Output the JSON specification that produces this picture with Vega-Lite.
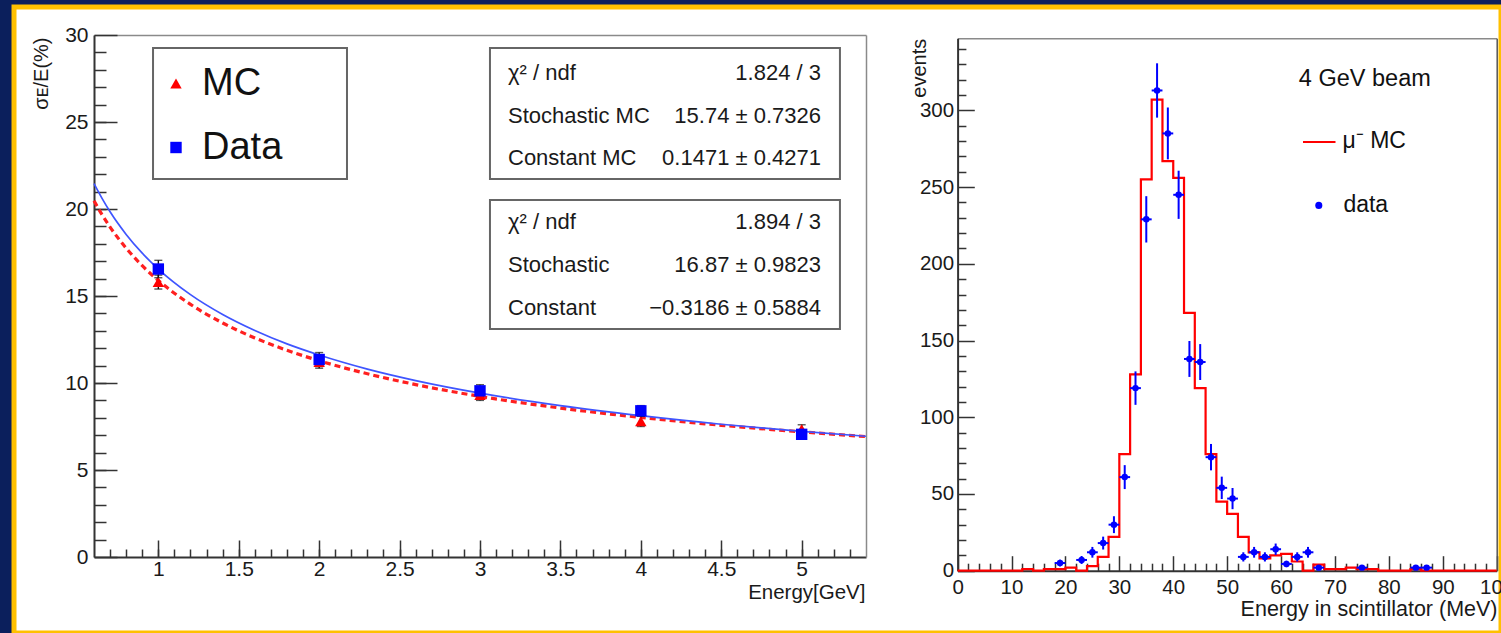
{
  "$schema": "https://vega.github.io/schema/vega-lite/v6.json",
  "width": 1487,
  "height": 626,
  "autosize": {"type": "none"},
  "padding": {"left": 14, "top": 7, "right": 0, "bottom": 0},
  "background": "#0b1f5c",
  "datasets": {
    "fit": [
      {"E": 0.6, "MC": 20.47, "Data": 21.46},
      {"E": 0.65, "MC": 19.67, "Data": 20.61},
      {"E": 0.7, "MC": 18.96, "Data": 19.84},
      {"E": 0.8, "MC": 17.75, "Data": 18.54},
      {"E": 0.9, "MC": 16.74, "Data": 17.46},
      {"E": 1.0, "MC": 15.89, "Data": 16.55},
      {"E": 1.2, "MC": 14.52, "Data": 15.08},
      {"E": 1.4, "MC": 13.45, "Data": 13.94},
      {"E": 1.6, "MC": 12.59, "Data": 13.02},
      {"E": 1.8, "MC": 11.88, "Data": 12.25},
      {"E": 2.0, "MC": 11.28, "Data": 11.61},
      {"E": 2.3, "MC": 10.53, "Data": 10.80},
      {"E": 2.6, "MC": 9.91, "Data": 10.14},
      {"E": 3.0, "MC": 9.23, "Data": 9.42},
      {"E": 3.5, "MC": 8.56, "Data": 8.70},
      {"E": 4.0, "MC": 8.02, "Data": 8.12},
      {"E": 4.5, "MC": 7.57, "Data": 7.63},
      {"E": 5.0, "MC": 7.19, "Data": 7.22},
      {"E": 5.4, "MC": 6.92, "Data": 6.94}
    ],
    "res": [
      {"E": 1, "series": "MC", "value": 15.8, "err": 0.4},
      {"E": 2, "series": "MC", "value": 11.2, "err": 0.35},
      {"E": 3, "series": "MC", "value": 9.3, "err": 0.3},
      {"E": 4, "series": "MC", "value": 7.8, "err": 0.3},
      {"E": 5, "series": "MC", "value": 7.35, "err": 0.25},
      {"E": 1, "series": "Data", "value": 16.55, "err": 0.5},
      {"E": 2, "series": "Data", "value": 11.35, "err": 0.4},
      {"E": 3, "series": "Data", "value": 9.55, "err": 0.35},
      {"E": 4, "series": "Data", "value": 8.4, "err": 0.3},
      {"E": 5, "series": "Data", "value": 7.05, "err": 0.25}
    ],
    "mcHist": [
      {"lo": 0, "n": 0}, {"lo": 2, "n": 0}, {"lo": 4, "n": 0}, {"lo": 6, "n": 0}, {"lo": 8, "n": 0},
      {"lo": 10, "n": 0}, {"lo": 12, "n": 1}, {"lo": 14, "n": 0}, {"lo": 16, "n": 1}, {"lo": 18, "n": 1},
      {"lo": 20, "n": 2}, {"lo": 22, "n": 0}, {"lo": 24, "n": 3}, {"lo": 26, "n": 9}, {"lo": 28, "n": 22},
      {"lo": 30, "n": 76}, {"lo": 32, "n": 128}, {"lo": 34, "n": 255}, {"lo": 36, "n": 307}, {"lo": 38, "n": 267},
      {"lo": 40, "n": 256}, {"lo": 42, "n": 168}, {"lo": 44, "n": 119}, {"lo": 46, "n": 76}, {"lo": 48, "n": 45},
      {"lo": 50, "n": 37}, {"lo": 52, "n": 22}, {"lo": 54, "n": 12}, {"lo": 56, "n": 8}, {"lo": 58, "n": 10},
      {"lo": 60, "n": 11}, {"lo": 62, "n": 6}, {"lo": 64, "n": 0}, {"lo": 66, "n": 4}, {"lo": 68, "n": 1},
      {"lo": 70, "n": 1}, {"lo": 72, "n": 2}, {"lo": 74, "n": 1}, {"lo": 76, "n": 1}, {"lo": 78, "n": 0},
      {"lo": 80, "n": 0}, {"lo": 82, "n": 0}, {"lo": 84, "n": 1}, {"lo": 86, "n": 0}, {"lo": 88, "n": 0},
      {"lo": 90, "n": 0}, {"lo": 92, "n": 0}, {"lo": 94, "n": 0}, {"lo": 96, "n": 0}, {"lo": 98, "n": 0},
      {"lo": 100, "n": 0}
    ],
    "dataHist": [
      {"E": 19, "lo": 18, "hi": 20, "n": 5, "err": 2.2},
      {"E": 23, "lo": 22, "hi": 24, "n": 7, "err": 2.6},
      {"E": 25, "lo": 24, "hi": 26, "n": 12, "err": 3.5},
      {"E": 27, "lo": 26, "hi": 28, "n": 18, "err": 4.2},
      {"E": 29, "lo": 28, "hi": 30, "n": 30, "err": 5.5},
      {"E": 31, "lo": 30, "hi": 32, "n": 61, "err": 7.8},
      {"E": 33, "lo": 32, "hi": 34, "n": 119, "err": 10.9},
      {"E": 35, "lo": 34, "hi": 36, "n": 229, "err": 15.1},
      {"E": 37, "lo": 36, "hi": 38, "n": 313, "err": 17.7},
      {"E": 39, "lo": 38, "hi": 40, "n": 285, "err": 16.9},
      {"E": 41, "lo": 40, "hi": 42, "n": 245, "err": 15.7},
      {"E": 43, "lo": 42, "hi": 44, "n": 138, "err": 11.7},
      {"E": 45, "lo": 44, "hi": 46, "n": 136, "err": 11.7},
      {"E": 47, "lo": 46, "hi": 48, "n": 74, "err": 8.6},
      {"E": 49, "lo": 48, "hi": 50, "n": 54, "err": 7.3},
      {"E": 51, "lo": 50, "hi": 52, "n": 47, "err": 6.9},
      {"E": 53, "lo": 52, "hi": 54, "n": 9, "err": 3},
      {"E": 55, "lo": 54, "hi": 56, "n": 12, "err": 3.5},
      {"E": 57, "lo": 56, "hi": 58, "n": 9, "err": 3},
      {"E": 59, "lo": 58, "hi": 60, "n": 14, "err": 3.7},
      {"E": 61, "lo": 60, "hi": 62, "n": 4.4, "err": 2.1},
      {"E": 63, "lo": 62, "hi": 64, "n": 9, "err": 3},
      {"E": 65, "lo": 64, "hi": 66, "n": 12, "err": 3.5},
      {"E": 67, "lo": 66, "hi": 68, "n": 2, "err": 1.4},
      {"E": 75, "lo": 74, "hi": 76, "n": 2, "err": 1.4},
      {"E": 85, "lo": 84, "hi": 86, "n": 2, "err": 1.4},
      {"E": 87, "lo": 86, "hi": 88, "n": 2, "err": 1.4}
    ],
    "stat1": [
      {"label": "χ² / ndf", "value": "1.824 / 3"},
      {"label": "Stochastic MC", "value": "15.74 ± 0.7326"},
      {"label": "Constant MC", "value": "0.1471 ± 0.4271"}
    ],
    "stat2": [
      {"label": "χ² / ndf", "value": "1.894 / 3"},
      {"label": "Stochastic", "value": "16.87 ± 0.9823"},
      {"label": "Constant", "value": "−0.3186 ± 0.5884"}
    ]
  },
  "layer": [
    {
      "layer": [
        {
          "data": {"values": [{}]},
          "mark": {"type": "rect", "fill": "white", "stroke": "#666666", "strokeWidth": 2},
          "encoding": {
            "x": {"datum": 0.967, "type": "quantitative", "scale": {"domain": [0.6, 5.4], "range": [80, 852], "nice": false, "zero": false}, "axis": null},
            "x2": {"datum": 2.173},
            "y": {"datum": 21.72, "type": "quantitative", "scale": {"domain": [0, 30], "range": [550, 28], "nice": false, "zero": false}, "axis": null},
            "y2": {"datum": 29.25}
          }
        },
        {
          "data": {"values": [{}]},
          "mark": {"type": "rect", "fill": "white", "stroke": "#666666", "strokeWidth": 2},
          "encoding": {
            "x": {"datum": 3.062, "type": "quantitative", "axis": null},
            "x2": {"datum": 5.238},
            "y": {"datum": 21.72, "type": "quantitative", "axis": null},
            "y2": {"datum": 29.25}
          }
        },
        {
          "data": {"values": [{}]},
          "mark": {"type": "rect", "fill": "white", "stroke": "#666666", "strokeWidth": 2},
          "encoding": {
            "x": {"datum": 3.062, "type": "quantitative", "axis": null},
            "x2": {"datum": 5.238},
            "y": {"datum": 13.1, "type": "quantitative", "axis": null},
            "y2": {"datum": 20.52}
          }
        },
        {
          "data": {"name": "fit"},
          "mark": {"type": "line", "color": "#ff2020", "strokeWidth": 3.2, "strokeDash": [6, 4], "interpolate": "monotone"},
          "encoding": {
            "x": {"field": "E", "type": "quantitative",
              "axis": {"orient": "bottom", "offset": -76, "values": [0.7,0.8,0.9,1,1.1,1.2,1.3,1.4,1.5,1.6,1.7,1.8,1.9,2,2.1,2.2,2.3,2.4,2.5,2.6,2.7,2.8,2.9,3,3.1,3.2,3.3,3.4,3.5,3.6,3.7,3.8,3.9,4,4.1,4.2,4.3,4.4,4.5,4.6,4.7,4.8,4.9,5,5.1,5.2,5.3], "tickSize": -8, "labels": false, "domain": false, "title": null}},
            "y": {"field": "MC", "type": "quantitative",
              "axis": {"orient": "left", "offset": -80, "values": [1,2,3,4,5,6,7,8,9,10,11,12,13,14,15,16,17,18,19,20,21,22,23,24,25,26,27,28,29], "tickSize": -12, "labels": false, "domain": false, "title": null}}
          }
        },
        {
          "data": {"name": "fit"},
          "mark": {"type": "line", "color": "#3f55ff", "strokeWidth": 1.7, "interpolate": "monotone"},
          "encoding": {
            "x": {"field": "E", "type": "quantitative",
              "axis": {"orient": "bottom", "offset": -76, "values": [1, 1.5, 2, 2.5, 3, 3.5, 4, 4.5, 5], "format": "~g", "tickSize": -17, "labelPadding": 18, "labelFontSize": 21,
                "title": "Energy[GeV]", "titleFontSize": 20.5, "titleAlign": "right", "titleBaseline": "alphabetic", "titleX": 851, "titleY": 41}},
            "y": {"field": "Data", "type": "quantitative",
              "axis": {"orient": "left", "offset": -80, "values": [0, 5, 10, 15, 20, 25, 30], "tickSize": -23, "labelPadding": 29, "labelFontSize": 21,
                "title": "σᴇ/E(%)", "titleFontSize": 20, "titleAngle": -90, "titleAlign": "right", "titleBaseline": "alphabetic", "titleX": -47, "titleY": 30}}
          }
        },
        {
          "data": {"name": "res"},
          "mark": {"type": "errorbar", "color": "#111111", "thickness": 1.4, "ticks": {"size": 8}},
          "encoding": {
            "x": {"field": "E", "type": "quantitative", "axis": null},
            "y": {"field": "value", "type": "quantitative", "axis": null},
            "yError": {"field": "err"}
          }
        },
        {
          "data": {"name": "res"},
          "mark": {"type": "point", "filled": true, "opacity": 1, "size": 130},
          "encoding": {
            "x": {"field": "E", "type": "quantitative",
              "axis": {"orient": "top", "offset": -28, "labels": false, "ticks": false, "domainColor": "#8a8a8a", "domainWidth": 1.5, "title": null}},
            "y": {"field": "value", "type": "quantitative",
              "axis": {"orient": "right", "offset": -635, "labels": false, "ticks": false, "domainColor": "#8a8a8a", "domainWidth": 1.5, "title": null}},
            "color": {"field": "series", "type": "nominal", "scale": {"domain": ["MC", "Data"], "range": ["#ff0000", "#0000ff"]},
              "legend": {"orient": "none", "legendX": 143, "legendY": 57.5, "title": null, "labelFontSize": 38, "labelColor": "#111111", "symbolSize": 130, "rowPadding": 26, "labelOffset": 7, "padding": 0, "symbolStrokeWidth": 0}},
            "shape": {"field": "series", "type": "nominal", "scale": {"domain": ["MC", "Data"], "range": ["triangle-up", "square"]},
              "legend": {"orient": "none", "legendX": 143, "legendY": 57.5, "title": null, "labelFontSize": 38, "labelColor": "#111111", "symbolSize": 130, "rowPadding": 26, "labelOffset": 7, "padding": 0, "symbolStrokeWidth": 0}}
          }
        }
      ],
      "resolve": {"axis": {"x": "independent", "y": "independent"}}
    },
    {
      "layer": [
        {
          "data": {"name": "mcHist"},
          "mark": {"type": "line", "color": "#ff0000", "strokeWidth": 2.2, "interpolate": "step-after"},
          "encoding": {
            "x": {"field": "lo", "type": "quantitative", "scale": {"domain": [0, 100], "range": [943.6, 1482.7], "nice": false, "zero": false},
              "axis": {"orient": "bottom", "offset": -62.3, "values": [0, 10, 20, 30, 40, 50, 60, 70, 80, 90, 100], "tickSize": -15, "labelPadding": 21.5, "labelFontSize": 20.5,
                "title": "Energy in scintillator (MeV)", "titleFontSize": 21.5, "titleAlign": "right", "titleBaseline": "alphabetic", "titleX": 1483, "titleY": 44.5}},
            "y": {"field": "n", "type": "quantitative", "scale": {"domain": [0, 347], "range": [563.7, 31.3], "nice": false, "zero": false},
              "axis": {"orient": "left", "offset": -943.6, "values": [0, 50, 100, 150, 200, 250, 300], "tickSize": -16.7, "labelPadding": 20.7, "labelFontSize": 20.5,
                "title": "events", "titleFontSize": 20, "titleAngle": -90, "titleAlign": "right", "titleBaseline": "alphabetic", "titleX": -32, "titleY": 31.3}}
          }
        },
        {
          "data": {"name": "dataHist"},
          "mark": {"type": "errorbar", "color": "#0000ff", "thickness": 2},
          "encoding": {
            "x": {"field": "E", "type": "quantitative", "axis": null},
            "y": {"field": "n", "type": "quantitative", "axis": null},
            "yError": {"field": "err"}
          }
        },
        {
          "data": {"name": "dataHist"},
          "mark": {"type": "rule", "color": "#0000ff", "strokeWidth": 2},
          "encoding": {
            "x": {"field": "lo", "type": "quantitative", "axis": null},
            "x2": {"field": "hi"},
            "y": {"field": "n", "type": "quantitative", "axis": null}
          }
        },
        {
          "data": {"name": "dataHist"},
          "mark": {"type": "point", "filled": true, "color": "#0000ff", "size": 42, "opacity": 1},
          "encoding": {
            "x": {"field": "E", "type": "quantitative",
              "axis": {"orient": "bottom", "offset": -62.3, "values": [2,4,6,8,12,14,16,18,22,24,26,28,32,34,36,38,42,44,46,48,52,54,56,58,62,64,66,68,72,74,76,78,82,84,86,88,92,94,96,98], "tickSize": -7.5, "labels": false, "domain": false, "title": null}},
            "y": {"field": "n", "type": "quantitative",
              "axis": {"orient": "left", "offset": -943.6, "values": [10,20,30,40,60,70,80,90,110,120,130,140,160,170,180,190,210,220,230,240,260,270,280,290,310,320,330,340], "tickSize": -8.3, "labels": false, "domain": false, "title": null}}
          }
        },
        {
          "data": {"values": [{}]},
          "mark": {"type": "text", "text": "4 GeV beam", "align": "left", "baseline": "alphabetic", "fontSize": 23.5, "color": "#111111"},
          "encoding": {
            "x": {"datum": 63.3, "type": "quantitative",
              "axis": {"orient": "top", "offset": -31.3, "labels": false, "ticks": false, "domainColor": "#8a8a8a", "domainWidth": 1.5, "title": null}},
            "y": {"datum": 316.2, "type": "quantitative",
              "axis": {"orient": "right", "offset": -4.3, "labels": false, "ticks": false, "domainColor": "#555555", "domainWidth": 1.5, "title": null}}
          }
        },
        {
          "data": {"values": [{}]},
          "mark": {"type": "rule", "color": "#ff0000", "strokeWidth": 2.2},
          "encoding": {
            "x": {"datum": 64.07, "type": "quantitative", "axis": null},
            "x2": {"datum": 70.1},
            "y": {"datum": 279.4, "type": "quantitative", "axis": null}
          }
        },
        {
          "data": {"values": [{}]},
          "mark": {"type": "text", "text": "μ⁻ MC", "align": "left", "baseline": "alphabetic", "fontSize": 23, "color": "#111111"},
          "encoding": {
            "x": {"datum": 71.4, "type": "quantitative", "axis": null},
            "y": {"datum": 275.7, "type": "quantitative", "axis": null}
          }
        },
        {
          "data": {"values": [{}]},
          "mark": {"type": "point", "filled": true, "color": "#0000ff", "size": 50, "opacity": 1},
          "encoding": {
            "x": {"datum": 67.0, "type": "quantitative", "axis": null},
            "y": {"datum": 238.1, "type": "quantitative", "axis": null}
          }
        },
        {
          "data": {"values": [{}]},
          "mark": {"type": "text", "text": "data", "align": "left", "baseline": "alphabetic", "fontSize": 23, "color": "#111111"},
          "encoding": {
            "x": {"datum": 71.56, "type": "quantitative", "axis": null},
            "y": {"datum": 233.6, "type": "quantitative", "axis": null}
          }
        }
      ],
      "resolve": {"axis": {"x": "independent", "y": "independent"}}
    },
    {
      "data": {"name": "stat1"},
      "layer": [
        {
          "mark": {"type": "text", "align": "left", "baseline": "middle", "fontSize": 22, "color": "#1a1a1a"},
          "encoding": {
            "x": {"datum": 0, "type": "quantitative", "scale": {"domain": [0, 1], "range": [494, 807]}, "axis": null},
            "y": {"field": "label", "type": "nominal", "scale": {"type": "point", "domain": ["χ² / ndf", "Stochastic MC", "Constant MC"], "range": [66, 151], "padding": 0}, "axis": null},
            "text": {"field": "label"}
          }
        },
        {
          "mark": {"type": "text", "align": "right", "baseline": "middle", "fontSize": 22, "color": "#1a1a1a"},
          "encoding": {
            "x": {"datum": 1, "type": "quantitative", "axis": null},
            "y": {"field": "label", "type": "nominal", "axis": null},
            "text": {"field": "value"}
          }
        }
      ]
    },
    {
      "data": {"name": "stat2"},
      "layer": [
        {
          "mark": {"type": "text", "align": "left", "baseline": "middle", "fontSize": 22, "color": "#1a1a1a"},
          "encoding": {
            "x": {"datum": 0, "type": "quantitative", "scale": {"domain": [0, 1], "range": [494, 807]}, "axis": null},
            "y": {"field": "label", "type": "nominal", "scale": {"type": "point", "domain": ["χ² / ndf", "Stochastic", "Constant"], "range": [215, 301], "padding": 0}, "axis": null},
            "text": {"field": "label"}
          }
        },
        {
          "mark": {"type": "text", "align": "right", "baseline": "middle", "fontSize": 22, "color": "#1a1a1a"},
          "encoding": {
            "x": {"datum": 1, "type": "quantitative", "axis": null},
            "y": {"field": "label", "type": "nominal", "axis": null},
            "text": {"field": "value"}
          }
        }
      ]
    }
  ],
  "resolve": {"scale": {"x": "independent", "y": "independent", "color": "independent", "shape": "independent"}, "axis": {"x": "independent", "y": "independent"}},
  "config": {
    "font": "Liberation Sans",
    "view": {"fill": "white", "stroke": "#ffc000", "strokeWidth": 5},
    "axis": {"grid": false, "labelFlush": false, "labelOverlap": false, "domainColor": "#333333", "domainWidth": 2, "tickColor": "#333333", "tickWidth": 1.5, "labelColor": "#1a1a1a", "titleColor": "#1a1a1a", "titleFontWeight": "normal", "labelFont": "Liberation Sans", "titleFont": "Liberation Sans"},
    "legend": {"labelFont": "Liberation Sans"},
    "text": {"font": "Liberation Sans"}
  }
}
